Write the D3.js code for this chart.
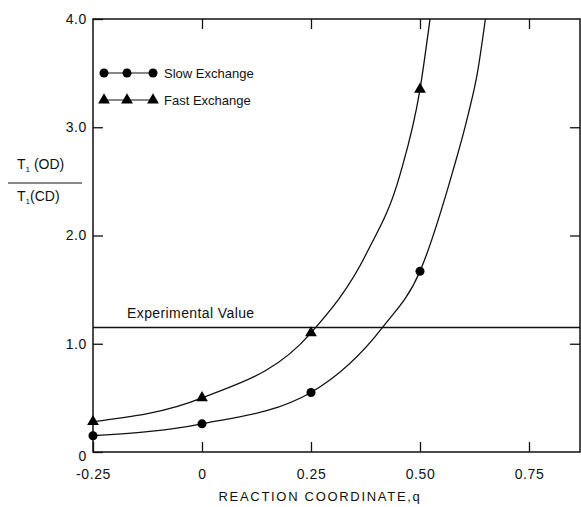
<!DOCTYPE html>
<html>
<head>
<meta charset="utf-8">
<script src="https://cdn.jsdelivr.net/npm/d3@7"></script>
<style>
  body { margin: 0; background: #fff; }
  svg { font-family: "Liberation Sans", Arial, sans-serif; }
</style>
</head>
<body>
<script>
// marker readings
const slowQ = [-0.25, 0, 0.25, 0.5];
const slowT = [0.15, 0.26, 0.55, 1.67];
const fastQ = [-0.25, 0, 0.25, 0.5];
const fastT = [0.28, 0.5, 1.1, 3.35];
// smooth curve readings taken along the drawn lines, up to where they leave the frame
const slowCurveQ = [-0.25, 0, 0.25, 0.415, 0.5, 0.575, 0.61, 0.632, 0.65];
const slowCurveT = [0.15, 0.26, 0.55, 1.155, 1.67, 2.59, 3.11, 3.51, 4.0];
const fastCurveQ = [-0.25, 0, 0.25, 0.378, 0.454, 0.5, 0.523];
const fastCurveT = [0.28, 0.5, 1.1, 1.84, 2.56, 3.35, 4.0];
const experimental = 1.15;
const xTicks = [-0.25, 0, 0.25, 0.5, 0.75];
const xTickLabels = ['-0.25', '0', '0.25', '0.50', '0.75'];
const yTicks = [0, 1, 2, 3, 4];
const yTickLabels = ['0', '1.0', '2.0', '3.0', '4.0'];

const width = 581, height = 507;
const mLeft = 93, mRight = 580, mTop = 19, mBottom = 452;

const svg = d3.select('body').append('svg')
  .attr('width', width).attr('height', height);

const x = d3.scaleLinear().domain([-0.25, 0.867]).range([mLeft, mRight]);
const y = d3.scaleLinear().domain([0, 4]).range([mBottom, mTop]);

svg.append('defs').append('clipPath').attr('id', 'clip')
  .append('rect').attr('x', mLeft).attr('y', mTop)
  .attr('width', mRight - mLeft).attr('height', mBottom - mTop);

// axes, ticks pointing inward
const xAxis = d3.axisBottom(x).tickValues(xTicks)
  .tickFormat((d, i) => xTickLabels[i]).tickSizeInner(-10).tickSizeOuter(0).tickPadding(17);
const gx = svg.append('g').attr('transform', `translate(0,${mBottom})`).call(xAxis);
gx.selectAll('text').style('font-size', '14px').attr('fill', '#111').style('letter-spacing', '0.6px');

const yAxis = d3.axisLeft(y).tickValues(yTicks)
  .tickFormat((d, i) => yTickLabels[i]).tickSizeInner(-10).tickSizeOuter(0).tickPadding(6);
const gy = svg.append('g').attr('transform', `translate(${mLeft},0)`).call(yAxis);
gy.selectAll('text').style('font-size', '14px').attr('fill', '#111').style('letter-spacing', '0.6px');
gy.selectAll('.tick').filter(d => d === 0).select('text').attr('dy', '0.6em');

svg.append('g').attr('transform', `translate(${mRight},0)`)
  .call(d3.axisRight(y).tickValues([1, 2, 3]).tickSizeInner(-10).tickSizeOuter(0).tickFormat(''));
svg.append('g').attr('transform', `translate(0,${mTop})`)
  .call(d3.axisTop(x).tickValues([0, 0.25, 0.5, 0.75]).tickSizeInner(-10).tickSizeOuter(0).tickFormat(''));

svg.selectAll('.domain').remove();
svg.selectAll('.tick line').attr('stroke', '#111').attr('stroke-width', 1.3);

// frame
svg.append('rect').attr('x', mLeft).attr('y', mTop)
  .attr('width', mRight - mLeft).attr('height', mBottom - mTop)
  .attr('fill', 'none').attr('stroke', '#111').attr('stroke-width', 1.5);

// experimental value
svg.append('line').attr('x1', mLeft).attr('x2', mRight)
  .attr('y1', y(experimental)).attr('y2', y(experimental))
  .attr('stroke', '#111').attr('stroke-width', 1.3);
svg.append('text').attr('x', x(-0.172)).attr('y', y(experimental) - 10)
  .style('font-size', '14px').style('letter-spacing', '0.4px').attr('fill', '#111')
  .text('Experimental Value');

// curves
const line = d3.line().x(d => x(d[0])).y(d => y(d[1])).curve(d3.curveMonotoneX);
const plot = svg.append('g').attr('clip-path', 'url(#clip)');
plot.append('path').datum(d3.zip(slowCurveQ, slowCurveT)).attr('d', line)
  .attr('fill', 'none').attr('stroke', '#111').attr('stroke-width', 1.3);
plot.append('path').datum(d3.zip(fastCurveQ, fastCurveT)).attr('d', line)
  .attr('fill', 'none').attr('stroke', '#111').attr('stroke-width', 1.3);

const circle = d3.symbol().type(d3.symbolCircle).size(64);
const tri = d3.symbol().type(d3.symbolTriangle).size(60);
svg.append('g').selectAll('path').data(d3.zip(slowQ, slowT)).join('path')
  .attr('transform', d => `translate(${x(d[0])},${y(d[1])})`)
  .attr('d', circle).attr('fill', '#000');
svg.append('g').selectAll('path').data(d3.zip(fastQ, fastT)).join('path')
  .attr('transform', d => `translate(${x(d[0])},${y(d[1])})`)
  .attr('d', tri).attr('fill', '#000');

// legend
const legend = svg.append('g');
const lx = [104, 127, 153];
[[73, circle, 'Slow Exchange'], [100, tri, 'Fast Exchange']].forEach(([ly, sym, label]) => {
  legend.append('line').attr('x1', lx[0]).attr('x2', lx[2]).attr('y1', ly).attr('y2', ly)
    .attr('stroke', '#111').attr('stroke-width', 1.2);
  lx.forEach(px => legend.append('path').attr('transform', `translate(${px},${ly})`)
    .attr('d', sym).attr('fill', '#000'));
  legend.append('text').attr('x', 164).attr('y', ly + 5)
    .style('font-size', '13px').attr('fill', '#111').text(label);
});

// y title as fraction
const yt = svg.append('g').attr('fill', '#111').style('font-size', '14px');
const num = yt.append('text').attr('x', 17).attr('y', 169);
num.append('tspan').text('T');
num.append('tspan').attr('dy', 3).style('font-size', '8px').text('1');
num.append('tspan').attr('dy', -3).text(' (OD)');
yt.append('line').attr('x1', 8).attr('x2', 82).attr('y1', 183).attr('y2', 183)
  .attr('stroke', '#111').attr('stroke-width', 1);
const den = yt.append('text').attr('x', 17).attr('y', 201);
den.append('tspan').text('T');
den.append('tspan').attr('dy', 3).style('font-size', '8px').text('1');
den.append('tspan').attr('dy', -3).text('(CD)');

// x title
svg.append('text').attr('x', 320).attr('y', 501).attr('text-anchor', 'middle')
  .style('font-size', '13px').style('letter-spacing', '1.7px').attr('fill', '#111')
  .text('REACTION COORDINATE,q');
</script>
</body>
</html>
